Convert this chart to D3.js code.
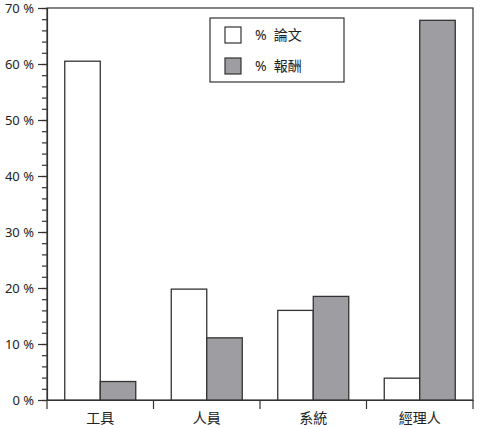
<!DOCTYPE html>
<html>
<head>
<meta charset="utf-8">
<script src="https://cdn.jsdelivr.net/npm/d3@7"></script>
<style>
  body { margin: 0; background: #fff; }
  text { font-family: "Noto Sans", "Noto Sans CJK TC", sans-serif; fill: #222; }
</style>
</head>
<body>
<svg id="chart" width="480" height="428"></svg>
<script>
// 資料
const categories = ["工具", "人員", "系統", "經理人"];
const seriesNames = ["論文", "報酬"];
const papers = [60.5, 19.8, 16.0, 3.9];
const rewards = [3.3, 11.1, 18.5, 67.8];
const yMajorTicks = [0, 10, 20, 30, 40, 50, 60, 70];
const yMinorTicks = d3.range(0, 71, 2);

const colors = ["#ffffff", "#9e9ea2"];

const margin = {top: 8, right: 7, bottom: 28, left: 47};
const width = 480 - margin.left - margin.right;
const height = 428 - margin.top - margin.bottom;

const svg = d3.select("#chart");
const g = svg.append("g")
  .attr("transform", "translate(" + margin.left + "," + margin.top + ")");

const x0 = d3.scaleBand().domain(categories).range([0, width]).padding(0);
const x1 = d3.scaleBand().domain(seriesNames).range([0, x0.bandwidth()])
  .paddingInner(0).paddingOuter(0.5);
const y = d3.scaleLinear().domain([0, 70]).range([height, 0]);

const data = categories.map((c, i) => ({cat: c, values: [papers[i], rewards[i]]}));

// 框
g.append("rect")
  .attr("x", 0).attr("y", 0)
  .attr("width", width).attr("height", height)
  .attr("fill", "none").attr("stroke", "#333").attr("stroke-width", 1.2);

// 長條
const groups = g.selectAll(".grp")
  .data(data)
  .enter().append("g")
  .attr("transform", d => "translate(" + x0(d.cat) + ",0)");

groups.selectAll("rect")
  .data(d => d.values.map((v, k) => ({name: seriesNames[k], v: v, k: k})))
  .enter().append("rect")
  .attr("x", d => x1(d.name))
  .attr("y", d => y(d.v))
  .attr("width", x1.bandwidth())
  .attr("height", d => height - y(d.v))
  .attr("fill", d => colors[d.k])
  .attr("stroke", "#333")
  .attr("stroke-width", 1.3);

// y軸 minor ticks
g.append("g")
  .call(d3.axisLeft(y).tickValues(yMinorTicks).tickSize(5).tickFormat(""))
  .call(a => a.select(".domain").remove())
  .selectAll("line").attr("stroke", "#333").attr("stroke-width", 1.2);

// y軸 major
const yAxis = g.append("g")
  .call(d3.axisLeft(y).tickValues(yMajorTicks).tickSize(9).tickPadding(4)
    .tickFormat(d => d + " %"))
  .call(a => a.select(".domain").attr("stroke", "#333").attr("stroke-width", 1.2));
yAxis.selectAll("line").attr("stroke", "#333").attr("stroke-width", 1.2);
yAxis.selectAll("text").style("font-size", "13px").attr("fill", "#222");

// x軸
const xAxis = g.append("g")
  .attr("transform", "translate(0," + height + ")")
  .call(d3.axisBottom(x0).tickSize(0).tickPadding(13))
  .call(a => a.select(".domain").attr("stroke", "#333").attr("stroke-width", 1.2));
xAxis.selectAll("text").style("font-size", "14px").attr("fill", "#222");

// 類別分隔刻度
g.append("g")
  .selectAll("line")
  .data(categories.map(c => x0(c)).concat([width]))
  .enter().append("line")
  .attr("x1", d => d).attr("x2", d => d)
  .attr("y1", height).attr("y2", height + 9)
  .attr("stroke", "#333").attr("stroke-width", 1.2);

// 圖例
const legend = svg.append("g").attr("transform", "translate(210,18)");
legend.append("rect")
  .attr("width", 134).attr("height", 64)
  .attr("fill", "#fff").attr("stroke", "#333").attr("stroke-width", 1.2);
seriesNames.forEach((name, i) => {
  legend.append("rect")
    .attr("x", 15).attr("y", 9 + i * 31)
    .attr("width", 16).attr("height", 16)
    .attr("fill", colors[i]).attr("stroke", "#333").attr("stroke-width", 1.2);
  const t = legend.append("text")
    .attr("x", 45).attr("y", 22 + i * 31)
    .style("font-size", "14px");
  t.append("tspan").text("%");
  t.append("tspan").attr("dx", 7).text(name);
});
</script>
</body>
</html>
